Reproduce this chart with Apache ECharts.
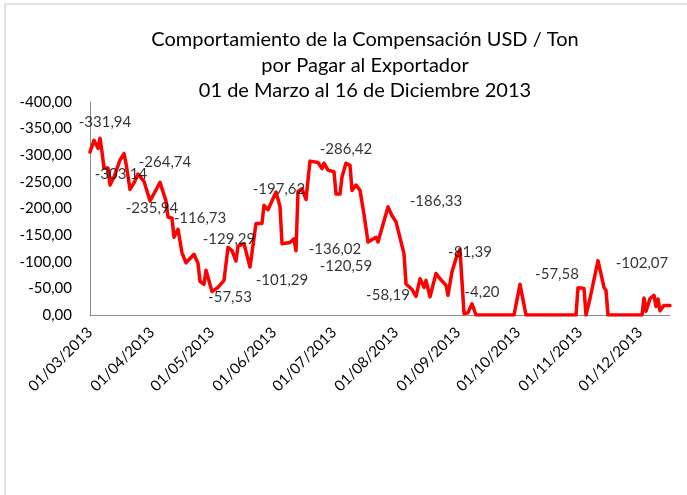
<!DOCTYPE html>
<html>
<head>
<meta charset="utf-8">
<script src="https://cdn.jsdelivr.net/npm/echarts@6/dist/echarts.min.js"></script>
<style>
  html, body { margin: 0; padding: 0; background: #fff; }
  #chart { width: 687px; height: 495px; }
</style>
</head>
<body>
<div id="chart"></div>
<script>
// compensación USD/Ton por fecha (negativa = por pagar)
const dates = [
  '2013-03-01', '2013-03-03', '2013-03-05', '2013-03-06', '2013-03-07', '2013-03-08', '2013-03-10', '2013-03-11',
  '2013-03-13', '2013-03-16', '2013-03-18', '2013-03-19', '2013-03-21', '2013-03-23', '2013-03-25', '2013-03-28',
  '2013-03-31', '2013-04-05', '2013-04-08', '2013-04-09', '2013-04-11', '2013-04-12', '2013-04-14', '2013-04-16',
  '2013-04-18', '2013-04-22', '2013-04-24', '2013-04-25', '2013-04-27', '2013-04-28', '2013-05-01', '2013-05-04',
  '2013-05-07', '2013-05-09', '2013-05-11', '2013-05-13', '2013-05-14', '2013-05-17', '2013-05-20', '2013-05-23',
  '2013-05-26', '2013-05-27', '2013-05-29', '2013-06-02', '2013-06-04', '2013-06-05', '2013-06-09', '2013-06-11',
  '2013-06-12', '2013-06-13', '2013-06-15', '2013-06-17', '2013-06-19', '2013-06-23', '2013-06-25', '2013-06-26',
  '2013-06-28', '2013-07-01', '2013-07-02', '2013-07-04', '2013-07-05', '2013-07-07', '2013-07-09', '2013-07-10',
  '2013-07-12', '2013-07-14', '2013-07-16', '2013-07-18', '2013-07-22', '2013-07-23', '2013-07-28', '2013-07-30',
  '2013-08-01', '2013-08-02', '2013-08-05', '2013-08-06', '2013-08-09', '2013-08-11', '2013-08-13', '2013-08-15',
  '2013-08-16', '2013-08-18', '2013-08-21', '2013-08-23', '2013-08-26', '2013-08-27', '2013-08-29', '2013-08-31',
  '2013-09-02', '2013-09-04', '2013-09-06', '2013-09-08', '2013-09-10', '2013-09-29', '2013-10-02', '2013-10-05',
  '2013-10-30', '2013-10-31', '2013-11-03', '2013-11-04', '2013-11-06', '2013-11-10', '2013-11-13', '2013-11-14',
  '2013-11-15', '2013-12-02', '2013-12-03', '2013-12-04', '2013-12-06', '2013-12-08', '2013-12-09', '2013-12-10',
  '2013-12-11', '2013-12-13', '2013-12-16'
];
const values = [
  -306, -328, -313, -331.94, -306, -276, -276, -244,
  -259, -291, -303.14, -285, -235.94, -248, -264.74, -251,
  -214, -249, -214, -184, -182, -146, -161, -116.73,
  -98, -114, -97, -63, -57.53, -84, -44, -52,
  -65, -127, -121, -101.29, -129.29, -134, -90, -172,
  -172, -206, -197.62, -231, -204, -134, -136.02, -143,
  -120.59, -232, -237, -217, -289, -286.42, -275, -285,
  -272, -269, -227, -227, -259, -285, -281, -234,
  -244, -234, -189, -137, -146, -137, -203, -186.33,
  -175, -172, -115, -58.19, -48, -35, -68, -52,
  -65, -34, -78, -68, -56, -37, -81.39, -106,
  -123, -3, -4.20, -21, 0, 0, -57.58, 0,
  0, -51, -50, 0, -31, -102.07, -52, -46,
  0, 0, -32, -7, -31, -37, -16, -30,
  -8, -18, -18
];
// points that carry a value label
const labelDates = [
  '2013-03-06', '2013-03-18', '2013-03-21', '2013-03-25', '2013-04-16', '2013-04-27',
  '2013-05-13', '2013-05-14', '2013-05-29', '2013-06-09', '2013-06-12', '2013-06-23',
  '2013-07-30', '2013-08-06', '2013-08-29', '2013-09-06', '2013-10-02', '2013-11-10'
];
const monthTicks = [
  '2013-03-01', '2013-04-01', '2013-05-01', '2013-06-01', '2013-07-01',
  '2013-08-01', '2013-09-01', '2013-10-01', '2013-11-01', '2013-12-01'
];
const titleText = 'Comportamiento de la Compensación USD / Ton\npor Pagar al Exportador\n01 de Marzo al 16 de Diciembre 2013';

// where each label sits relative to its point (px), as in the original
const labelOffsets = [
  [5, -16], [-3, 21], [22, 19], [27, -12], [18, -35], [26, 13],
  [46, 19], [-9, -7], [11, -21], [45, 7], [50, 15], [28, -13],
  [44, -15], [-18, 11], [18, -20], [14, -21], [37, -10], [44, 3]
];

const font = 'Lato';
const toTs = s => {
  const p = s.split('-').map(Number);
  return new Date(p[0], p[1] - 1, p[2]).getTime();
};
const fmt = v => v.toFixed(2).replace('.', ',');
const pad = n => (n < 10 ? '0' : '') + n;

const chart = echarts.init(document.getElementById('chart'));

chart.setOption({
  animation: false,
  backgroundColor: '#fff',
  title: {
    text: titleText,
    left: 360,
    top: 22,
    textAlign: 'center',
    textStyle: { fontFamily: font, fontSize: 20, fontWeight: 'normal', color: '#000', lineHeight: 25.5 }
  },
  graphic: [{
    type: 'rect',
    shape: { x: 5, y: 4, width: 700, height: 520 },
    style: { fill: 'none', stroke: '#c4c4c4', lineWidth: 1 },
    silent: true
  }],
  grid: { left: 90, right: 17, top: 102, bottom: 180, containLabel: false, outerBoundsMode: 'none' },
  xAxis: {
    type: 'value',
    min: toTs('2013-03-01'),
    max: toTs('2013-12-16'),
    axisLine: { show: true, onZero: false, lineStyle: { color: '#8c8c8c', width: 1 } },
    axisTick: { show: false },
    splitLine: { show: false },
    axisLabel: {
      customValues: monthTicks.map(toTs),
      rotate: 45,
      margin: 15,
      color: '#000',
      fontFamily: font,
      fontSize: 15,
      hideOverlap: false,
      formatter: v => {
        const d = new Date(v);
        return pad(d.getDate()) + '/' + pad(d.getMonth() + 1) + '/' + d.getFullYear();
      }
    }
  },
  yAxis: {
    type: 'value',
    inverse: true,
    min: -400,
    max: 0,
    interval: 50,
    axisLine: { show: true, lineStyle: { color: '#8c8c8c', width: 1 } },
    axisTick: { show: false },
    splitLine: { show: false },
    axisLabel: { color: '#000', fontFamily: font, fontSize: 15, margin: 18, formatter: v => fmt(v) }
  },
  series: [
    {
      type: 'line',
      data: dates.map((d, i) => [toTs(d), values[i]]),
      showSymbol: false,
      symbol: 'none',
      lineStyle: { color: '#ff0000', width: 3.5, join: 'round', cap: 'round' },
      itemStyle: { color: '#ff0000' },
      silent: true,
      z: 2
    },
    {
      type: 'scatter',
      data: labelDates.map((d, i) => {
        const k = dates.indexOf(d);
        return { value: [toTs(d), values[k]], label: { offset: labelOffsets[i] } };
      }),
      symbolSize: 1,
      itemStyle: { color: 'rgba(0,0,0,0)' },
      label: {
        show: true,
        position: 'inside',
        color: '#000',
        fontFamily: font,
        fontSize: 15,
        formatter: p => fmt(p.value[1])
      },
      silent: true,
      z: 3
    }
  ]
});
</script>
</body>
</html>
